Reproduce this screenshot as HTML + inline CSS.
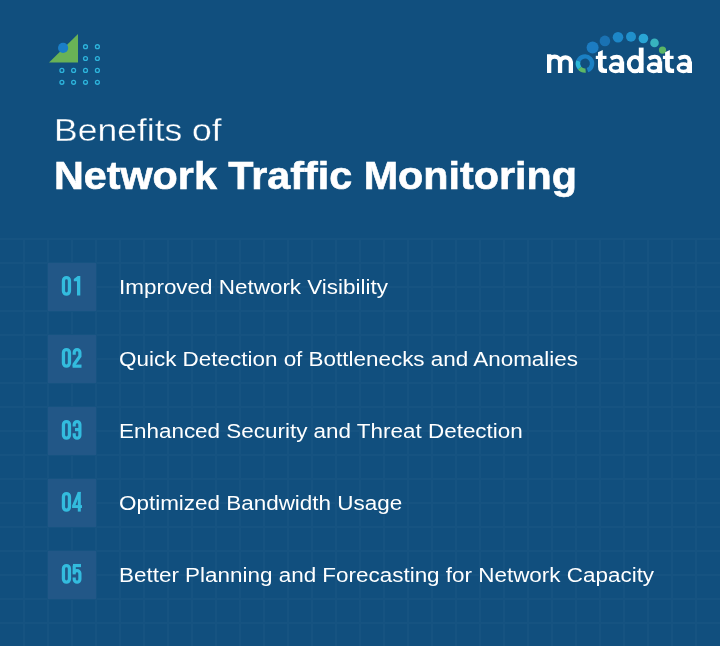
<!DOCTYPE html>
<html>
<head>
<meta charset="utf-8">
<style>
html,body{margin:0;padding:0;}
body{width:720px;height:646px;overflow:hidden;position:relative;background:#114F7E;font-family:"Liberation Sans",sans-serif;color:#fff;}
.abs{position:absolute;white-space:nowrap;transform-origin:0 0;will-change:transform;}
.t1{left:54px;top:112.5px;font-size:31px;line-height:36px;transform:scaleX(1.145);-webkit-text-stroke:0.3px #114F7E;}
.t2{left:53.5px;top:154px;font-size:38.8px;line-height:44px;font-weight:bold;transform:scaleX(1.064);-webkit-text-stroke:0.6px #fff;}
.item{left:119px;font-size:20px;line-height:24px;transform:scaleX(1.122);}
</style>
</head>
<body>
<svg class="abs" style="left:0;top:238px" width="720" height="408" viewBox="0 0 720 408"><g fill="#165381"><rect x="0" y="0" width="720" height="2"/><rect x="0" y="24" width="720" height="2"/><rect x="0" y="48" width="720" height="2"/><rect x="0" y="72" width="720" height="2"/><rect x="0" y="96" width="720" height="2"/><rect x="0" y="120" width="720" height="2"/><rect x="0" y="144" width="720" height="2"/><rect x="0" y="168" width="720" height="2"/><rect x="0" y="192" width="720" height="2"/><rect x="0" y="216" width="720" height="2"/><rect x="0" y="240" width="720" height="2"/><rect x="0" y="264" width="720" height="2"/><rect x="0" y="288" width="720" height="2"/><rect x="0" y="312" width="720" height="2"/><rect x="0" y="336" width="720" height="2"/><rect x="0" y="360" width="720" height="2"/><rect x="0" y="384" width="720" height="2"/><rect x="23" y="0" width="2" height="408"/><rect x="47" y="0" width="2" height="408"/><rect x="71" y="0" width="2" height="408"/><rect x="95" y="0" width="2" height="408"/><rect x="119" y="0" width="2" height="408"/><rect x="143" y="0" width="2" height="408"/><rect x="167" y="0" width="2" height="408"/><rect x="191" y="0" width="2" height="408"/><rect x="215" y="0" width="2" height="408"/><rect x="239" y="0" width="2" height="408"/><rect x="263" y="0" width="2" height="408"/><rect x="287" y="0" width="2" height="408"/><rect x="311" y="0" width="2" height="408"/><rect x="335" y="0" width="2" height="408"/><rect x="359" y="0" width="2" height="408"/><rect x="383" y="0" width="2" height="408"/><rect x="407" y="0" width="2" height="408"/><rect x="431" y="0" width="2" height="408"/><rect x="455" y="0" width="2" height="408"/><rect x="479" y="0" width="2" height="408"/><rect x="503" y="0" width="2" height="408"/><rect x="527" y="0" width="2" height="408"/><rect x="551" y="0" width="2" height="408"/><rect x="575" y="0" width="2" height="408"/><rect x="599" y="0" width="2" height="408"/><rect x="623" y="0" width="2" height="408"/><rect x="647" y="0" width="2" height="408"/><rect x="671" y="0" width="2" height="408"/><rect x="695" y="0" width="2" height="408"/></g></svg>

<svg class="abs" style="left:0;top:0" width="720" height="646" viewBox="0 0 720 646">
  <polygon points="49,62.5 78,34 78,62.5" fill="#69B256"/>
  <circle cx="63.1" cy="47.9" r="5.1" fill="#1A7EC8"/>
  <g fill="none" stroke="#2DB4DC" stroke-width="1.3">
    <circle cx="85.5" cy="46.7" r="1.95"/><circle cx="97.4" cy="46.7" r="1.95"/>
    <circle cx="85.5" cy="58.5" r="1.95"/><circle cx="97.4" cy="58.5" r="1.95"/>
    <circle cx="61.9" cy="70.4" r="1.95"/><circle cx="73.6" cy="70.4" r="1.95"/><circle cx="85.5" cy="70.4" r="1.95"/><circle cx="97.4" cy="70.4" r="1.95"/>
    <circle cx="61.9" cy="82.3" r="1.95"/><circle cx="73.6" cy="82.3" r="1.95"/><circle cx="85.5" cy="82.3" r="1.95"/><circle cx="97.4" cy="82.3" r="1.95"/>
  </g>
  <!-- logo dots -->
  <circle cx="592.6" cy="47.4" r="6" fill="#1C7CC2"/>
  <circle cx="604.9" cy="40.9" r="5.3" fill="#1A72B3"/>
  <circle cx="618" cy="37.3" r="5.3" fill="#1D87C8"/>
  <circle cx="631" cy="36.7" r="5" fill="#2090CC"/>
  <circle cx="643.4" cy="38.5" r="4.8" fill="#29A5D5"/>
  <circle cx="654.5" cy="42.9" r="4.3" fill="#38B3BE"/>
  <circle cx="662.5" cy="50.1" r="3.6" fill="#5BB565"/>
  <!-- o ring -->
  <g fill="none" stroke-width="4.4">
    <path d="M578.33 61.07 A7.10 7.10 0 1 1 587.43 70.17" stroke="#1B80C4"/>
    <path d="M585.62 70.57 A7.10 7.10 0 0 1 579.56 68.06" stroke="#5DB866"/>
    <path d="M579.56 68.06 A7.10 7.10 0 0 1 578.33 61.07" stroke="#2BB8D8"/>
  </g>
  <g fill="#fff"><path d="M598.00 52.3 L602.75 50 V66.6 Q602.75 68.7 604.90 68.7 H607.00 V73.1 H604.20 Q598.00 73.1 598.00 66.8 Z"/><rect x="595.80" y="55.8" width="10.7" height="3.2"/><path d="M665.10 52.3 L669.85 50 V66.6 Q669.85 68.7 672.00 68.7 H674.10 V73.1 H671.30 Q665.10 73.1 665.10 66.8 Z"/><rect x="662.90" y="55.8" width="10.7" height="3.2"/></g>
  <g fill="none" stroke="#fff">
    <path d="M549.15 73 V54.2 M549.15 62 A5.45 5.45 0 0 1 560.05 62 V73 M560.05 62 A5.45 5.45 0 0 1 570.85 62 V73" stroke-width="4.3"/>
    <path d="M621.80 61.5 V73" stroke-width="4.75"/><path d="M610.80 58.7 Q613.80 56.75 616.80 56.75 Q621.80 56.75 621.80 62.5" stroke-width="3.9"/><ellipse cx="615.65" cy="67.8" rx="5.2" ry="3.7" stroke-width="3.5"/><path d="M659.80 61.5 V73" stroke-width="4.75"/><path d="M648.80 58.7 Q651.80 56.75 654.80 56.75 Q659.80 56.75 659.80 62.5" stroke-width="3.9"/><ellipse cx="653.65" cy="67.8" rx="5.2" ry="3.7" stroke-width="3.5"/><path d="M689.60 61.5 V73" stroke-width="4.75"/><path d="M678.60 58.7 Q681.60 56.75 684.60 56.75 Q689.60 56.75 689.60 62.5" stroke-width="3.9"/><ellipse cx="683.45" cy="67.8" rx="5.2" ry="3.7" stroke-width="3.5"/>
    <ellipse cx="635" cy="64.2" rx="6.2" ry="7.15" stroke-width="4"/><path d="M641.2 47.6 V73" stroke-width="4.8"/>
  </g>

  <!-- number boxes -->
  <g transform="translate(48,263)"><rect width="48" height="48" fill="#225787"/><g><rect x="15.45" y="14.55" width="6.0" height="16.6" rx="3.1" ry="3.1" fill="none" stroke="#33BCDE" stroke-width="3.3"/></g><g><path d="M25.8 15.9 L29.7 12.9 L32.3 12.9 L32.3 32.6 L29 32.6 L29 18.2 L25.8 18.2 Z" fill="#33BCDE"/></g></g>
  <g transform="translate(48,335)"><rect width="48" height="48" fill="#225787"/><g><rect x="15.45" y="14.55" width="6.0" height="16.6" rx="3.1" ry="3.1" fill="none" stroke="#33BCDE" stroke-width="3.3"/></g><g fill="none" stroke="#33BCDE" stroke-width="3.2"><path d="M26.2 19.8 V17.4 A2.85 2.85 0 0 1 31.9 17.4 V21.3 L26.2 29.3 V31.15"/><path d="M24.6 31.15 H33.5"/></g></g>
  <g transform="translate(48,407)"><rect width="48" height="48" fill="#225787"/><g><rect x="15.45" y="14.55" width="6.0" height="16.6" rx="3.1" ry="3.1" fill="none" stroke="#33BCDE" stroke-width="3.3"/></g><g fill="none" stroke="#33BCDE" stroke-width="3.2"><path d="M26.2 19.4 V17.4 A2.85 2.85 0 0 1 31.9 17.4 V28.3 A2.85 2.85 0 0 1 26.2 28.3 V26.3"/><path d="M27 22.6 H31.9"/></g></g>
  <g transform="translate(48,479)"><rect width="48" height="48" fill="#225787"/><g><rect x="15.45" y="14.55" width="6.0" height="16.6" rx="3.1" ry="3.1" fill="none" stroke="#33BCDE" stroke-width="3.3"/></g><g fill="#33BCDE"><path d="M29.8 12.9 H32.8 V32.6 H29.8 Z"/><path d="M29.8 12.9 H32.8 L27.4 26.4 H24.1 Z"/><path d="M24.1 26.1 H34 V29 H24.1 Z"/></g></g>
  <g transform="translate(48,551)"><rect width="48" height="48" fill="#225787"/><g><rect x="15.45" y="14.55" width="6.0" height="16.6" rx="3.1" ry="3.1" fill="none" stroke="#33BCDE" stroke-width="3.3"/></g><g fill="none" stroke="#33BCDE" stroke-width="3.2"><path d="M25 14.55 H33"/><path d="M26.2 14.55 V23.4"/><path d="M26.2 21.8 Q26.6 19.6 29 19.6 A2.85 2.85 0 0 1 31.9 22.4 V28.3 A2.85 2.85 0 0 1 26.2 28.3 V26.6"/></g></g>
</svg>

<div class="abs t1">Benefits of</div>
<div class="abs t2">Network Traffic Monitoring</div>

<div class="abs item" style="top:275.2px">Improved Network Visibility</div>
<div class="abs item" style="top:347.2px">Quick Detection of Bottlenecks and Anomalies</div>
<div class="abs item" style="top:419.2px">Enhanced Security and Threat Detection</div>
<div class="abs item" style="top:491.2px">Optimized Bandwidth Usage</div>
<div class="abs item" style="top:563.2px">Better Planning and Forecasting for Network Capacity</div>
</body>
</html>
